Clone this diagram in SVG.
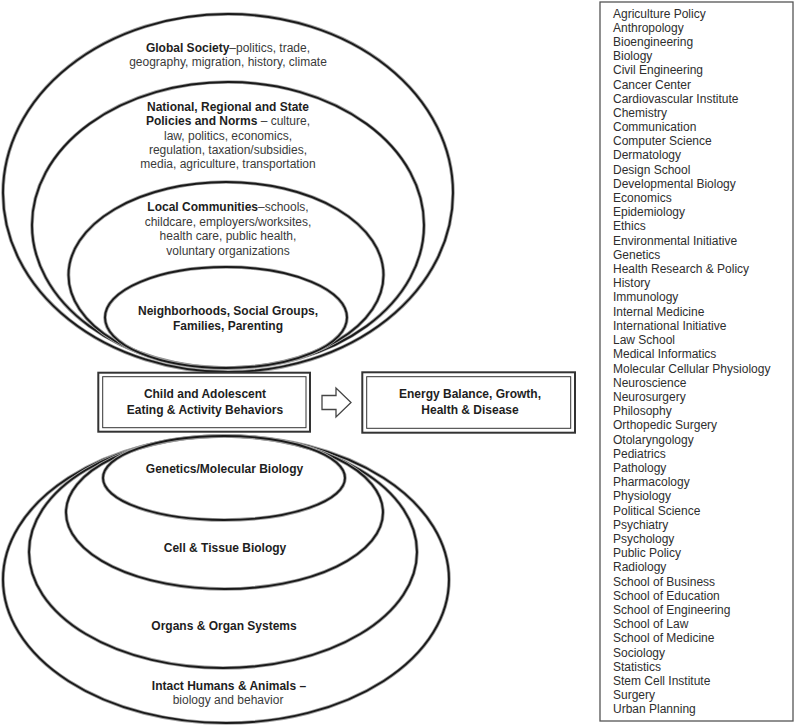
<svg xmlns="http://www.w3.org/2000/svg" width="795" height="727" viewBox="0 0 795 727">
<style>
.ring{fill:none;stroke:#1a1a1a;stroke-width:1.9}
.halo{fill:none;stroke:#a0a0a0;stroke-width:3.6}
.t{font-family:"Liberation Sans",Arial,sans-serif;font-size:12px;fill:#3a3a3a;text-anchor:middle}
.b{font-weight:bold;fill:#1e1e1e}
.bt{font-family:"Liberation Sans",Arial,sans-serif;font-size:12px;font-weight:bold;fill:#1e1e1e;text-anchor:middle}
.outer{fill:#fff;stroke:#333;stroke-width:2}
.inner{fill:none;stroke:#333;stroke-width:1}
.list{font-family:"Liberation Sans",Arial,sans-serif;font-size:12px;fill:#2e2e2e}
</style>
<rect width="795" height="727" fill="#fff"/>

<g id="global-society">
<ellipse class="halo" cx="228" cy="193" rx="225" ry="179"/>
<ellipse class="ring" cx="228" cy="193" rx="225" ry="179"/>
<text class="t" x="228" y="52"><tspan class="b">Global Society</tspan>–politics, trade,</text>
<text class="t" x="228" y="66">geography, migration, history, climate</text>
</g>

<g id="national-policies">
<ellipse class="halo" cx="228" cy="225" rx="196" ry="143"/>
<ellipse class="ring" cx="228" cy="225" rx="196" ry="143"/>
<text class="t b" x="228" y="111">National, Regional and State</text>
<text class="t" x="228" y="125"><tspan class="b">Policies and Norms</tspan> – culture,</text>
<text class="t" x="228" y="140">law, politics, economics,</text>
<text class="t" x="228" y="154">regulation, taxation/subsidies,</text>
<text class="t" x="228" y="168">media, agriculture, transportation</text>
</g>

<g id="local-communities">
<ellipse class="halo" cx="226" cy="275" rx="157.5" ry="93"/>
<ellipse class="ring" cx="226" cy="275" rx="157.5" ry="93"/>
<text class="t" x="228" y="211"><tspan class="b">Local Communities</tspan>–schools,</text>
<text class="t" x="228" y="226">childcare, employers/worksites,</text>
<text class="t" x="228" y="240">health care, public health,</text>
<text class="t" x="228" y="254.5">voluntary organizations</text>
</g>

<g id="neighborhoods">
<ellipse class="halo" cx="226" cy="317.5" rx="121" ry="50.5"/>
<ellipse class="ring" cx="226" cy="317.5" rx="121" ry="50.5"/>
<text class="t b" x="228" y="314.5">Neighborhoods, Social Groups,</text>
<text class="t b" x="228" y="329.5">Families, Parenting</text>
</g>

<g id="intact-humans">
<ellipse class="halo" cx="226" cy="579.5" rx="223" ry="143.5"/>
<ellipse class="ring" cx="226" cy="579.5" rx="223" ry="143.5"/>
<text class="t b" x="229" y="690">Intact Humans &amp; Animals –</text>
<text class="t" x="228" y="704">biology and behavior</text>
</g>

<g id="organs">
<ellipse class="halo" cx="223" cy="552" rx="194" ry="116"/>
<ellipse class="ring" cx="223" cy="552" rx="194" ry="116"/>
<text class="t b" x="224" y="630">Organs &amp; Organ Systems</text>
</g>

<g id="cell-tissue">
<ellipse class="halo" cx="224.5" cy="512.5" rx="158.5" ry="76.5"/>
<ellipse class="ring" cx="224.5" cy="512.5" rx="158.5" ry="76.5"/>
<text class="t b" x="225" y="552">Cell &amp; Tissue Biology</text>
</g>

<g id="genetics">
<ellipse class="halo" cx="224" cy="478" rx="121" ry="42"/>
<ellipse class="ring" cx="224" cy="478" rx="121" ry="42"/>
<text class="t b" x="224.5" y="473">Genetics/Molecular Biology</text>
</g>

<g id="child-behaviors">
<rect class="outer" x="98.3" y="372.7" width="211.7" height="59"/>
<rect class="inner" x="102.7" y="376.7" width="203.3" height="51"/>
<text class="bt" x="205" y="398">Child and Adolescent</text>
<text class="bt" x="205" y="414">Eating &amp; Activity Behaviors</text>
</g>

<g id="energy-balance">
<rect class="outer" x="362.3" y="372.3" width="212.7" height="60.4"/>
<rect class="inner" x="366.7" y="376.7" width="204" height="51.6"/>
<text class="bt" x="470" y="398">Energy Balance, Growth,</text>
<text class="bt" x="470" y="414">Health &amp; Disease</text>
</g>

<g id="connectors">
<polygon points="322,395.5 336,395.5 336,388 351,402.5 336,417 336,409.5 322,409.5" fill="#fff" stroke="#444" stroke-width="1.3"/>
</g>

<g id="departments">
<rect x="600" y="2" width="193" height="719" fill="#fff" stroke="#555" stroke-width="1.3"/>
<text class="list">
<tspan x="613" y="17.5">Agriculture Policy</tspan>
<tspan x="613" dy="14.2">Anthropology</tspan>
<tspan x="613" dy="14.2">Bioengineering</tspan>
<tspan x="613" dy="14.2">Biology</tspan>
<tspan x="613" dy="14.2">Civil Engineering</tspan>
<tspan x="613" dy="14.2">Cancer Center</tspan>
<tspan x="613" dy="14.2">Cardiovascular Institute</tspan>
<tspan x="613" dy="14.2">Chemistry</tspan>
<tspan x="613" dy="14.2">Communication</tspan>
<tspan x="613" dy="14.2">Computer Science</tspan>
<tspan x="613" dy="14.2">Dermatology</tspan>
<tspan x="613" dy="14.2">Design School</tspan>
<tspan x="613" dy="14.2">Developmental Biology</tspan>
<tspan x="613" dy="14.2">Economics</tspan>
<tspan x="613" dy="14.2">Epidemiology</tspan>
<tspan x="613" dy="14.2">Ethics</tspan>
<tspan x="613" dy="14.2">Environmental Initiative</tspan>
<tspan x="613" dy="14.2">Genetics</tspan>
<tspan x="613" dy="14.2">Health Research &amp; Policy</tspan>
<tspan x="613" dy="14.2">History</tspan>
<tspan x="613" dy="14.2">Immunology</tspan>
<tspan x="613" dy="14.2">Internal Medicine</tspan>
<tspan x="613" dy="14.2">International Initiative</tspan>
<tspan x="613" dy="14.2">Law School</tspan>
<tspan x="613" dy="14.2">Medical Informatics</tspan>
<tspan x="613" dy="14.2">Molecular Cellular Physiology</tspan>
<tspan x="613" dy="14.2">Neuroscience</tspan>
<tspan x="613" dy="14.2">Neurosurgery</tspan>
<tspan x="613" dy="14.2">Philosophy</tspan>
<tspan x="613" dy="14.2">Orthopedic Surgery</tspan>
<tspan x="613" dy="14.2">Otolaryngology</tspan>
<tspan x="613" dy="14.2">Pediatrics</tspan>
<tspan x="613" dy="14.2">Pathology</tspan>
<tspan x="613" dy="14.2">Pharmacology</tspan>
<tspan x="613" dy="14.2">Physiology</tspan>
<tspan x="613" dy="14.2">Political Science</tspan>
<tspan x="613" dy="14.2">Psychiatry</tspan>
<tspan x="613" dy="14.2">Psychology</tspan>
<tspan x="613" dy="14.2">Public Policy</tspan>
<tspan x="613" dy="14.2">Radiology</tspan>
<tspan x="613" dy="14.2">School of Business</tspan>
<tspan x="613" dy="14.2">School of Education</tspan>
<tspan x="613" dy="14.2">School of Engineering</tspan>
<tspan x="613" dy="14.2">School of Law</tspan>
<tspan x="613" dy="14.2">School of Medicine</tspan>
<tspan x="613" dy="14.2">Sociology</tspan>
<tspan x="613" dy="14.2">Statistics</tspan>
<tspan x="613" dy="14.2">Stem Cell Institute</tspan>
<tspan x="613" dy="14.2">Surgery</tspan>
<tspan x="613" dy="14.2">Urban Planning</tspan>
</text>
</g>
</svg>
